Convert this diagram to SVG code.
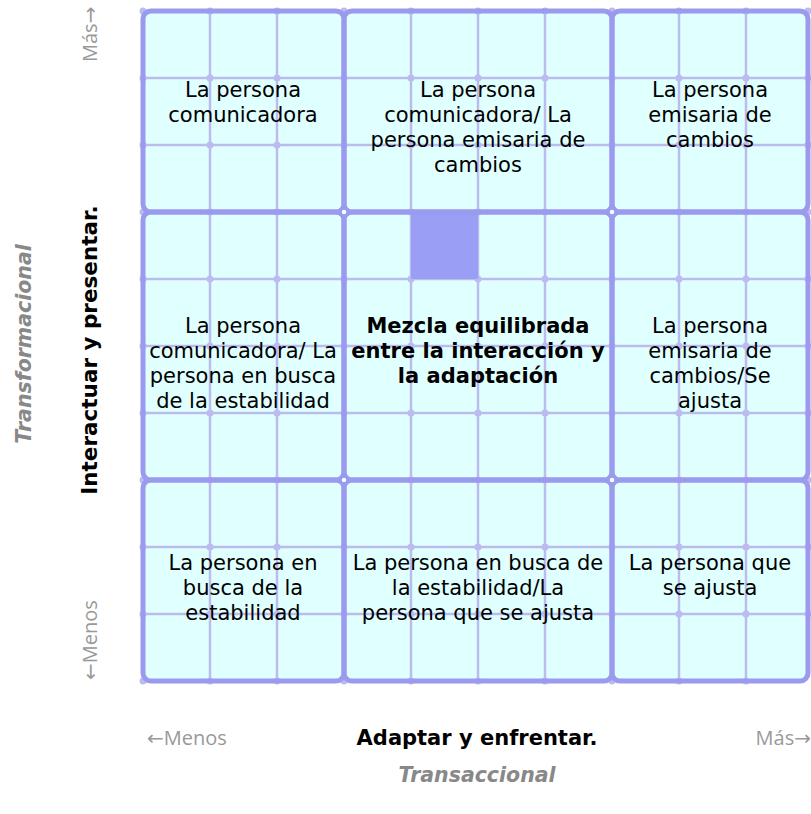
<svg xmlns="http://www.w3.org/2000/svg" width="811" height="814" viewBox="0 0 811 814">
<style>
.blk{fill:#E0FFFF}
.bd{fill:none;stroke:#9A9AEE;stroke-width:5}
.mn{stroke:#BBBBF0;stroke-width:2.5;fill:none}
.dt{stroke:#BBBBF0;stroke-width:7;stroke-linecap:round;stroke-dasharray:0 67;fill:none}
.ring{fill:#EEFFFF;stroke:#9A9AEE;stroke-width:3.5}
.t{font-family:"DejaVu Sans",Verdana,sans-serif;font-size:21px;fill:#000;text-anchor:middle}
.b{font-weight:bold}
.ax{font-family:"Open Sans","DejaVu Sans",sans-serif;font-size:20px;fill:#999}
.axb{font-family:"DejaVu Sans",Verdana,sans-serif;font-size:21px;font-weight:bold;fill:#000;text-anchor:middle}
.axi{font-family:"DejaVu Sans",Verdana,sans-serif;font-size:20.5px;font-weight:bold;font-style:italic;fill:#888;text-anchor:middle}
</style>
<rect width="811" height="814" fill="#fff"/>
<g id="background">
<rect class="blk" x="143" y="11" width="665" height="670" rx="8"/>
</g>
<g id="grid">
<path class="mn" d="M210 11V681M277 11V681M411 11V681M478 11V681M545 11V681M679 11V681M746 11V681M143 78H808M143 145H808M143 279H808M143 346H808M143 413H808M143 547H808M143 614H808"/>
<path class="dt" d="M143 11H808M143 78H808M143 145H808M143 212H808M143 279H808M143 346H808M143 413H808M143 480H808M143 547H808M143 614H808M143 681H808M808 11V681"/>
<rect x="411" y="212" width="67" height="67" fill="#9A9EF5"/>
</g>
<g id="cell-1-1"><rect class="bd" x="143" y="11" width="201" height="201" rx="8"/>
<text class="t" x="243" y="97">La persona</text><text class="t" x="243" y="122">comunicadora</text></g>
<g id="cell-1-2"><rect class="bd" x="344" y="11" width="268" height="201" rx="8"/>
<text class="t" x="478" y="97">La persona</text><text class="t" x="478" y="122">comunicadora/ La</text><text class="t" x="478" y="147">persona emisaria de</text><text class="t" x="478" y="172">cambios</text></g>
<g id="cell-1-3"><rect class="bd" x="612" y="11" width="196" height="201" rx="8"/>
<text class="t" x="710" y="97">La persona</text><text class="t" x="710" y="122">emisaria de</text><text class="t" x="710" y="147">cambios</text></g>
<g id="cell-2-1"><rect class="bd" x="143" y="212" width="201" height="268" rx="8"/>
<text class="t" x="243" y="333">La persona</text><text class="t" x="243" y="358">comunicadora/ La</text><text class="t" x="243" y="383">persona en busca</text><text class="t" x="243" y="408">de la estabilidad</text></g>
<g id="cell-2-2"><rect class="bd" x="344" y="212" width="268" height="268" rx="8"/>
<text class="t b" x="478" y="333">Mezcla equilibrada</text><text class="t b" x="478" y="358">entre la interacción y</text><text class="t b" x="478" y="383">la adaptación</text></g>
<g id="cell-2-3"><rect class="bd" x="612" y="212" width="196" height="268" rx="8"/>
<text class="t" x="710" y="333">La persona</text><text class="t" x="710" y="358">emisaria de</text><text class="t" x="710" y="383">cambios/Se</text><text class="t" x="710" y="408">ajusta</text></g>
<g id="cell-3-1"><rect class="bd" x="143" y="480" width="201" height="201" rx="8"/>
<text class="t" x="243" y="570">La persona en</text><text class="t" x="243" y="595">busca de la</text><text class="t" x="243" y="620">estabilidad</text></g>
<g id="cell-3-2"><rect class="bd" x="344" y="480" width="268" height="201" rx="8"/>
<text class="t" x="478" y="570">La persona en busca de</text><text class="t" x="478" y="595">la estabilidad/La</text><text class="t" x="478" y="620">persona que se ajusta</text></g>
<g id="cell-3-3"><rect class="bd" x="612" y="480" width="196" height="201" rx="8"/>
<text class="t" x="710" y="570">La persona que</text><text class="t" x="710" y="595">se ajusta</text></g>
<g id="joints">
<circle class="ring" cx="344" cy="212" r="4"/><circle class="ring" cx="612" cy="212" r="4"/>
<circle class="ring" cx="344" cy="480" r="4"/><circle class="ring" cx="612" cy="480" r="4"/>
</g>
<g id="y-axis">
<text class="ax" transform="translate(97,62) rotate(-90)">Más→</text>
<text class="ax" transform="translate(97,680) rotate(-90)">←Menos</text>
<text class="axb" style="font-size:21.5px" transform="translate(97,350) rotate(-90)">Interactuar y presentar.</text>
<text class="axi" transform="translate(31,344) rotate(-90)">Transformacional</text>
</g>
<g id="x-axis">
<text class="ax" x="147" y="745">←Menos</text>
<text class="axb" x="477" y="745">Adaptar y enfrentar.</text>
<text class="ax" x="811" y="745" text-anchor="end">Más→</text>
<text class="axi" x="477" y="782">Transaccional</text>
</g>
<g id="connectors"/>
</svg>
